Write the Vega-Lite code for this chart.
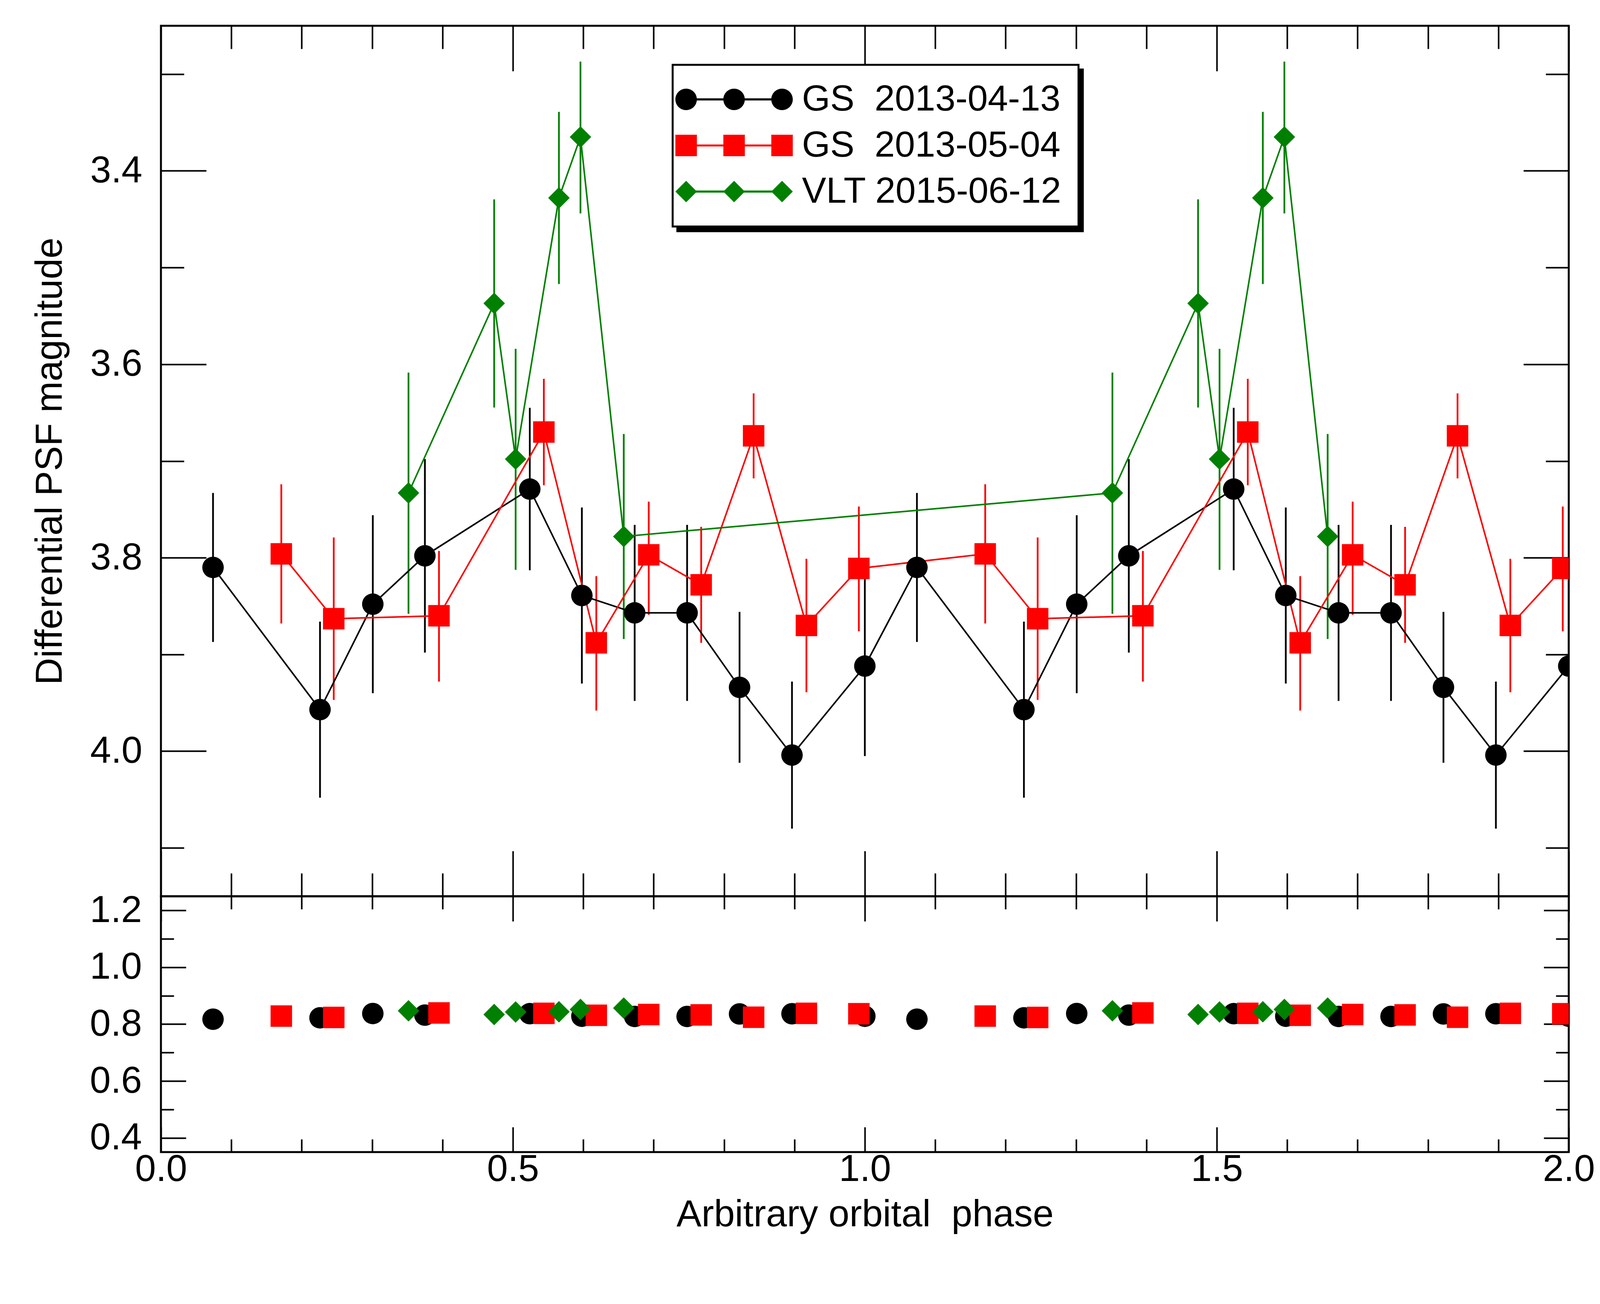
{
  "$schema": "https://vega.github.io/schema/vega-lite/v6.json",
  "background": "white",
  "padding": {"left": 78, "top": 61, "right": 83, "bottom": 130},
  "spacing": 0,
  "bounds": "flush",
  "config": {
    "view": {"stroke": "black", "strokeWidth": 5},
    "axis": {
      "domain": false, "grid": false,
      "tickColor": "black", "tickWidth": 4,
      "labelFont": "Liberation Sans", "labelFontSize": 96, "labelColor": "black",
      "labelOverlap": false, "labelFlush": false, "labelBound": false,
      "titleFont": "Liberation Sans", "titleFontSize": 96, "titleFontWeight": "normal", "titleColor": "black"
    },
    "legend": {"strokeWidth": 5}
  },
  "datasets": {
    "top": [
      {"phase": 0.074, "mag": 3.810, "lo": 3.733, "hi": 3.887, "series": "GS\u00a0 2013-04-13"},
      {"phase": 0.226, "mag": 3.957, "lo": 3.866, "hi": 4.048, "series": "GS\u00a0 2013-04-13"},
      {"phase": 0.301, "mag": 3.848, "lo": 3.756, "hi": 3.940, "series": "GS\u00a0 2013-04-13"},
      {"phase": 0.375, "mag": 3.798, "lo": 3.698, "hi": 3.898, "series": "GS\u00a0 2013-04-13"},
      {"phase": 0.524, "mag": 3.729, "lo": 3.645, "hi": 3.813, "series": "GS\u00a0 2013-04-13"},
      {"phase": 0.598, "mag": 3.839, "lo": 3.748, "hi": 3.930, "series": "GS\u00a0 2013-04-13"},
      {"phase": 0.673, "mag": 3.857, "lo": 3.766, "hi": 3.948, "series": "GS\u00a0 2013-04-13"},
      {"phase": 0.7475, "mag": 3.857, "lo": 3.766, "hi": 3.948, "series": "GS\u00a0 2013-04-13"},
      {"phase": 0.822, "mag": 3.934, "lo": 3.856, "hi": 4.012, "series": "GS\u00a0 2013-04-13"},
      {"phase": 0.8965, "mag": 4.004, "lo": 3.928, "hi": 4.080, "series": "GS\u00a0 2013-04-13"},
      {"phase": 1.000, "mag": 3.912, "lo": 3.819, "hi": 4.005, "series": "GS\u00a0 2013-04-13"},
      {"phase": 1.074, "mag": 3.810, "lo": 3.733, "hi": 3.887, "series": "GS\u00a0 2013-04-13"},
      {"phase": 1.226, "mag": 3.957, "lo": 3.866, "hi": 4.048, "series": "GS\u00a0 2013-04-13"},
      {"phase": 1.301, "mag": 3.848, "lo": 3.756, "hi": 3.940, "series": "GS\u00a0 2013-04-13"},
      {"phase": 1.375, "mag": 3.798, "lo": 3.698, "hi": 3.898, "series": "GS\u00a0 2013-04-13"},
      {"phase": 1.524, "mag": 3.729, "lo": 3.645, "hi": 3.813, "series": "GS\u00a0 2013-04-13"},
      {"phase": 1.598, "mag": 3.839, "lo": 3.748, "hi": 3.930, "series": "GS\u00a0 2013-04-13"},
      {"phase": 1.673, "mag": 3.857, "lo": 3.766, "hi": 3.948, "series": "GS\u00a0 2013-04-13"},
      {"phase": 1.7475, "mag": 3.857, "lo": 3.766, "hi": 3.948, "series": "GS\u00a0 2013-04-13"},
      {"phase": 1.822, "mag": 3.934, "lo": 3.856, "hi": 4.012, "series": "GS\u00a0 2013-04-13"},
      {"phase": 1.8965, "mag": 4.004, "lo": 3.928, "hi": 4.080, "series": "GS\u00a0 2013-04-13"},
      {"phase": 2.000, "mag": 3.912, "lo": 3.819, "hi": 4.005, "series": "GS\u00a0 2013-04-13"},
      {"phase": 0.171, "mag": 3.796, "lo": 3.724, "hi": 3.868, "series": "GS\u00a0 2013-05-04"},
      {"phase": 0.2455, "mag": 3.863, "lo": 3.779, "hi": 3.947, "series": "GS\u00a0 2013-05-04"},
      {"phase": 0.395, "mag": 3.860, "lo": 3.793, "hi": 3.928, "series": "GS\u00a0 2013-05-04"},
      {"phase": 0.544, "mag": 3.670, "lo": 3.615, "hi": 3.725, "series": "GS\u00a0 2013-05-04"},
      {"phase": 0.6185, "mag": 3.888, "lo": 3.819, "hi": 3.958, "series": "GS\u00a0 2013-05-04"},
      {"phase": 0.693, "mag": 3.797, "lo": 3.742, "hi": 3.859, "series": "GS\u00a0 2013-05-04"},
      {"phase": 0.7675, "mag": 3.828, "lo": 3.768, "hi": 3.888, "series": "GS\u00a0 2013-05-04"},
      {"phase": 0.842, "mag": 3.674, "lo": 3.630, "hi": 3.718, "series": "GS\u00a0 2013-05-04"},
      {"phase": 0.917, "mag": 3.870, "lo": 3.801, "hi": 3.939, "series": "GS\u00a0 2013-05-04"},
      {"phase": 0.9915, "mag": 3.811, "lo": 3.747, "hi": 3.876, "series": "GS\u00a0 2013-05-04"},
      {"phase": 1.171, "mag": 3.796, "lo": 3.724, "hi": 3.868, "series": "GS\u00a0 2013-05-04"},
      {"phase": 1.2455, "mag": 3.863, "lo": 3.779, "hi": 3.947, "series": "GS\u00a0 2013-05-04"},
      {"phase": 1.395, "mag": 3.860, "lo": 3.793, "hi": 3.928, "series": "GS\u00a0 2013-05-04"},
      {"phase": 1.544, "mag": 3.670, "lo": 3.615, "hi": 3.725, "series": "GS\u00a0 2013-05-04"},
      {"phase": 1.6185, "mag": 3.888, "lo": 3.819, "hi": 3.958, "series": "GS\u00a0 2013-05-04"},
      {"phase": 1.693, "mag": 3.797, "lo": 3.742, "hi": 3.859, "series": "GS\u00a0 2013-05-04"},
      {"phase": 1.7675, "mag": 3.828, "lo": 3.768, "hi": 3.888, "series": "GS\u00a0 2013-05-04"},
      {"phase": 1.842, "mag": 3.674, "lo": 3.630, "hi": 3.718, "series": "GS\u00a0 2013-05-04"},
      {"phase": 1.917, "mag": 3.870, "lo": 3.801, "hi": 3.939, "series": "GS\u00a0 2013-05-04"},
      {"phase": 1.9915, "mag": 3.811, "lo": 3.747, "hi": 3.876, "series": "GS\u00a0 2013-05-04"},
      {"phase": 0.3517, "mag": 3.733, "lo": 3.6085, "hi": 3.858, "series": "VLT 2015-06-12"},
      {"phase": 0.4734, "mag": 3.537, "lo": 3.4295, "hi": 3.6447, "series": "VLT 2015-06-12"},
      {"phase": 0.5039, "mag": 3.698, "lo": 3.584, "hi": 3.8126, "series": "VLT 2015-06-12"},
      {"phase": 0.5654, "mag": 3.428, "lo": 3.339, "hi": 3.517, "series": "VLT 2015-06-12"},
      {"phase": 0.596, "mag": 3.365, "lo": 3.287, "hi": 3.444, "series": "VLT 2015-06-12"},
      {"phase": 0.6575, "mag": 3.778, "lo": 3.672, "hi": 3.884, "series": "VLT 2015-06-12"},
      {"phase": 1.3517, "mag": 3.733, "lo": 3.6085, "hi": 3.858, "series": "VLT 2015-06-12"},
      {"phase": 1.4734, "mag": 3.537, "lo": 3.4295, "hi": 3.6447, "series": "VLT 2015-06-12"},
      {"phase": 1.5039, "mag": 3.698, "lo": 3.584, "hi": 3.8126, "series": "VLT 2015-06-12"},
      {"phase": 1.5654, "mag": 3.428, "lo": 3.339, "hi": 3.517, "series": "VLT 2015-06-12"},
      {"phase": 1.596, "mag": 3.365, "lo": 3.287, "hi": 3.444, "series": "VLT 2015-06-12"},
      {"phase": 1.6575, "mag": 3.778, "lo": 3.672, "hi": 3.884, "series": "VLT 2015-06-12"}
    ],
    "bottom": [
      {"phase": 0.074, "ratio": 0.8175, "series": "GS\u00a0 2013-04-13"},
      {"phase": 0.226, "ratio": 0.8224, "series": "GS\u00a0 2013-04-13"},
      {"phase": 0.301, "ratio": 0.8375, "series": "GS\u00a0 2013-04-13"},
      {"phase": 0.375, "ratio": 0.832, "series": "GS\u00a0 2013-04-13"},
      {"phase": 0.524, "ratio": 0.837, "series": "GS\u00a0 2013-04-13"},
      {"phase": 0.598, "ratio": 0.828, "series": "GS\u00a0 2013-04-13"},
      {"phase": 0.673, "ratio": 0.8272, "series": "GS\u00a0 2013-04-13"},
      {"phase": 0.7475, "ratio": 0.8272, "series": "GS\u00a0 2013-04-13"},
      {"phase": 0.822, "ratio": 0.8361, "series": "GS\u00a0 2013-04-13"},
      {"phase": 0.8965, "ratio": 0.8368, "series": "GS\u00a0 2013-04-13"},
      {"phase": 1.000, "ratio": 0.828, "series": "GS\u00a0 2013-04-13"},
      {"phase": 1.074, "ratio": 0.8175, "series": "GS\u00a0 2013-04-13"},
      {"phase": 1.226, "ratio": 0.8224, "series": "GS\u00a0 2013-04-13"},
      {"phase": 1.301, "ratio": 0.8375, "series": "GS\u00a0 2013-04-13"},
      {"phase": 1.375, "ratio": 0.832, "series": "GS\u00a0 2013-04-13"},
      {"phase": 1.524, "ratio": 0.837, "series": "GS\u00a0 2013-04-13"},
      {"phase": 1.598, "ratio": 0.828, "series": "GS\u00a0 2013-04-13"},
      {"phase": 1.673, "ratio": 0.8272, "series": "GS\u00a0 2013-04-13"},
      {"phase": 1.7475, "ratio": 0.8272, "series": "GS\u00a0 2013-04-13"},
      {"phase": 1.822, "ratio": 0.8361, "series": "GS\u00a0 2013-04-13"},
      {"phase": 1.8965, "ratio": 0.8368, "series": "GS\u00a0 2013-04-13"},
      {"phase": 2.000, "ratio": 0.828, "series": "GS\u00a0 2013-04-13"},
      {"phase": 0.171, "ratio": 0.8285, "series": "GS\u00a0 2013-05-04"},
      {"phase": 0.2455, "ratio": 0.8237, "series": "GS\u00a0 2013-05-04"},
      {"phase": 0.395, "ratio": 0.8396, "series": "GS\u00a0 2013-05-04"},
      {"phase": 0.544, "ratio": 0.838, "series": "GS\u00a0 2013-05-04"},
      {"phase": 0.6185, "ratio": 0.8313, "series": "GS\u00a0 2013-05-04"},
      {"phase": 0.693, "ratio": 0.834, "series": "GS\u00a0 2013-05-04"},
      {"phase": 0.7675, "ratio": 0.8327, "series": "GS\u00a0 2013-05-04"},
      {"phase": 0.842, "ratio": 0.8244, "series": "GS\u00a0 2013-05-04"},
      {"phase": 0.917, "ratio": 0.8382, "series": "GS\u00a0 2013-05-04"},
      {"phase": 0.9915, "ratio": 0.8368, "series": "GS\u00a0 2013-05-04"},
      {"phase": 1.171, "ratio": 0.8285, "series": "GS\u00a0 2013-05-04"},
      {"phase": 1.2455, "ratio": 0.8237, "series": "GS\u00a0 2013-05-04"},
      {"phase": 1.395, "ratio": 0.8396, "series": "GS\u00a0 2013-05-04"},
      {"phase": 1.544, "ratio": 0.838, "series": "GS\u00a0 2013-05-04"},
      {"phase": 1.6185, "ratio": 0.8313, "series": "GS\u00a0 2013-05-04"},
      {"phase": 1.693, "ratio": 0.834, "series": "GS\u00a0 2013-05-04"},
      {"phase": 1.7675, "ratio": 0.8327, "series": "GS\u00a0 2013-05-04"},
      {"phase": 1.842, "ratio": 0.8244, "series": "GS\u00a0 2013-05-04"},
      {"phase": 1.917, "ratio": 0.8382, "series": "GS\u00a0 2013-05-04"},
      {"phase": 1.9915, "ratio": 0.8368, "series": "GS\u00a0 2013-05-04"},
      {"phase": 0.3517, "ratio": 0.8471, "series": "VLT 2015-06-12"},
      {"phase": 0.4734, "ratio": 0.834, "series": "VLT 2015-06-12"},
      {"phase": 0.5039, "ratio": 0.843, "series": "VLT 2015-06-12"},
      {"phase": 0.5654, "ratio": 0.8437, "series": "VLT 2015-06-12"},
      {"phase": 0.596, "ratio": 0.852, "series": "VLT 2015-06-12"},
      {"phase": 0.6575, "ratio": 0.8568, "series": "VLT 2015-06-12"},
      {"phase": 1.3517, "ratio": 0.8471, "series": "VLT 2015-06-12"},
      {"phase": 1.4734, "ratio": 0.834, "series": "VLT 2015-06-12"},
      {"phase": 1.5039, "ratio": 0.843, "series": "VLT 2015-06-12"},
      {"phase": 1.5654, "ratio": 0.8437, "series": "VLT 2015-06-12"},
      {"phase": 1.596, "ratio": 0.852, "series": "VLT 2015-06-12"},
      {"phase": 1.6575, "ratio": 0.8568, "series": "VLT 2015-06-12"}
    ]
  },
  "vconcat": [
    {
      "width": 3604,
      "height": 2229,
      "data": {"name": "top"},
      "layer": [
        {
          "mark": {"type": "rule", "strokeWidth": 4.5, "clip": true},
          "encoding": {
            "x": {
              "field": "phase", "type": "quantitative",
              "scale": {"domain": [0, 2], "nice": false, "zero": false},
              "axis": {
                "orient": "bottom", "title": null, "labels": false,
                "values": [0, 0.1, 0.2, 0.3, 0.4, 0.5, 0.6, 0.7, 0.8, 0.9, 1, 1.1, 1.2, 1.3, 1.4, 1.5, 1.6, 1.7, 1.8, 1.9, 2],
                "tickSize": {"condition": {"test": "abs(datum.value*2 - round(datum.value*2)) < 0.001", "value": -116}, "value": -59}
              }
            },
            "y": {
              "field": "lo", "type": "quantitative",
              "scale": {"domain": [3.25, 4.15], "reverse": true, "nice": false, "zero": false},
              "axis": {
                "orient": "left", "title": "Differential PSF magnitude", "titlePadding": 53,
                "values": [3.3, 3.4, 3.5, 3.6, 3.7, 3.8, 3.9, 4.0, 4.1],
                "labelExpr": "abs(datum.value*5 - round(datum.value*5)) < 0.001 ? format(datum.value, '.1f') : ''",
                "labelPadding": 164,
                "tickSize": {"condition": {"test": "abs(datum.value*5 - round(datum.value*5)) < 0.001", "value": -116}, "value": -59}
              }
            },
            "y2": {"field": "hi"},
            "stroke": {
              "field": "series", "type": "nominal",
              "scale": {"domain": ["VLT 2015-06-12", "GS\u00a0 2013-05-04", "GS\u00a0 2013-04-13"], "range": ["#008000", "#ff0000", "#000000"]},
              "legend": {
                "orient": "none", "legendX": 1322, "legendY": 112, "direction": "vertical",
                "title": null,
                "symbolType": "circle",
                "symbolSize": 3025,
                "symbolStrokeWidth": 0,
                "symbolFillColor": "black",
                "labelExpr": "''",
                "labelFont": "Liberation Sans Narrow, Liberation Sans",
                "labelFontSize": 93,
                "labelOffset": 861,
                "rowPadding": 24,
                "padding": 42,
                "strokeColor": "black",
                "fillColor": "black",
                "zindex": 0
              }
            }
          }
        },
        {
          "mark": {"type": "line", "strokeWidth": 4, "clip": true},
          "encoding": {
            "x": {
              "field": "phase", "type": "quantitative",
              "scale": {"domain": [0, 2], "nice": false, "zero": false},
              "axis": {
                "orient": "top", "title": null, "labels": false,
                "values": [0, 0.1, 0.2, 0.3, 0.4, 0.5, 0.6, 0.7, 0.8, 0.9, 1, 1.1, 1.2, 1.3, 1.4, 1.5, 1.6, 1.7, 1.8, 1.9, 2],
                "tickSize": {"condition": {"test": "abs(datum.value*2 - round(datum.value*2)) < 0.001", "value": -116}, "value": -59}
              }
            },
            "y": {
              "field": "mag", "type": "quantitative",
              "scale": {"domain": [3.25, 4.15], "reverse": true, "nice": false, "zero": false},
              "axis": {
                "orient": "right", "title": null, "labels": false,
                "values": [3.3, 3.4, 3.5, 3.6, 3.7, 3.8, 3.9, 4.0, 4.1],
                "tickSize": {"condition": {"test": "abs(datum.value*5 - round(datum.value*5)) < 0.001", "value": -116}, "value": -59}
              }
            },
            "stroke": {
              "field": "series", "type": "nominal",
              "scale": {"domain": ["VLT 2015-06-12", "GS\u00a0 2013-05-04", "GS\u00a0 2013-04-13"], "range": ["#008000", "#ff0000", "#000000"]}
            }
          }
        },
        {
          "mark": {"type": "point", "filled": true, "size": 3025, "opacity": 1, "clip": true},
          "encoding": {
            "x": {"field": "phase", "type": "quantitative", "scale": {"domain": [0, 2], "nice": false, "zero": false}, "axis": null},
            "y": {"field": "mag", "type": "quantitative", "scale": {"domain": [3.25, 4.15], "reverse": true, "nice": false, "zero": false}, "axis": null},
            "shape": {
              "field": "series", "type": "nominal",
              "scale": {"domain": ["VLT 2015-06-12", "GS\u00a0 2013-05-04", "GS\u00a0 2013-04-13"], "range": ["diamond", "square", "circle"]},
              "legend": null
            },
            "color": {
              "field": "series", "type": "nominal",
              "scale": {"domain": ["GS\u00a0 2013-04-13", "GS\u00a0 2013-05-04", "VLT 2015-06-12"], "range": ["#000000", "#ff0000", "#008000"]},
              "legend": {
                "orient": "none", "legendX": 1310, "legendY": 100, "direction": "vertical",
                "title": null,
                "symbolType": {"expr": "indexof(datum.value, '04-13') >= 0 ? 'M-1 0 C-1 -0.5523 -0.5523 -1 0 -1 C0.5523 -1 1 -0.5523 1 0 C1 0.5523 0.5523 1 0 1 C-0.5523 1 -1 0.5523 -1 0 Z M3.4643 0 C3.4643 -0.5523 3.912 -1 4.4643 -1 C5.0166 -1 5.4643 -0.5523 5.4643 0 C5.4643 0.5523 5.0166 1 4.4643 1 C3.912 1 3.4643 0.5523 3.4643 0 Z M7.9286 0 C7.9286 -0.5523 8.3763 -1 8.9286 -1 C9.4809 -1 9.9286 -0.5523 9.9286 0 C9.9286 0.5523 9.4809 1 8.9286 1 C8.3763 1 7.9286 0.5523 7.9286 0 Z M0 -0.1 L8.9286 -0.1 L8.9286 0.1 L0 0.1 Z' : indexof(datum.value, '05-04') >= 0 ? 'M-1 -1 L1 -1 L1 1 L-1 1 Z M3.4643 -1 L5.4643 -1 L5.4643 1 L3.4643 1 Z M7.9286 -1 L9.9286 -1 L9.9286 1 L7.9286 1 Z M0 -0.09 L8.9286 -0.09 L8.9286 0.09 L0 0.09 Z' : 'M-1 0 L0 -1 L1 0 L0 1 Z M3.4643 0 L4.4643 -1 L5.4643 0 L4.4643 1 Z M7.9286 0 L8.9286 -1 L9.9286 0 L8.9286 1 Z M0 -0.1 L8.9286 -0.1 L8.9286 0.1 L0 0.1 Z'"},
                "symbolSize": 3025,
                "symbolStrokeWidth": 0,
                "symbolOpacity": 1,
                "symbolOffset": -54,
                "labelFont": "Liberation Sans Narrow, Liberation Sans",
                "labelFontSize": 93,
                "labelColor": "black",
                "labelOffset": 250,
                "labelLimit": 5000,
                "rowPadding": 24,
                "padding": 42,
                "strokeColor": "black",
                "fillColor": "white",
                "zindex": 1
              }
            }
          }
        }
      ],
      "resolve": {"axis": {"x": "independent", "y": "independent"}}
    },
    {
      "width": 3604,
      "height": 655,
      "data": {"name": "bottom"},
      "layer": [
        {
          "mark": {"type": "point", "filled": true, "size": 3025, "opacity": 1, "clip": true},
          "encoding": {
            "x": {
              "field": "phase", "type": "quantitative",
              "scale": {"domain": [0, 2], "nice": false, "zero": false},
              "axis": {
                "orient": "bottom", "title": "Arbitrary orbital\u00a0 phase", "titlePadding": -10,
                "values": [0, 0.1, 0.2, 0.3, 0.4, 0.5, 0.6, 0.7, 0.8, 0.9, 1, 1.1, 1.2, 1.3, 1.4, 1.5, 1.6, 1.7, 1.8, 1.9, 2],
                "labelExpr": "abs(datum.value*2 - round(datum.value*2)) < 0.001 ? format(datum.value, '.1f') : ''",
                "labelPadding": 61,
                "tickSize": {"condition": {"test": "abs(datum.value*2 - round(datum.value*2)) < 0.001", "value": -64}, "value": -33}
              }
            },
            "y": {
              "field": "ratio", "type": "quantitative",
              "scale": {"domain": [0.35, 1.25], "nice": false, "zero": false},
              "axis": {
                "orient": "left", "title": null,
                "values": [0.4, 0.5, 0.6, 0.7, 0.8, 0.9, 1.0, 1.1, 1.2],
                "labelExpr": "abs(datum.value*5 - round(datum.value*5)) < 0.001 ? format(datum.value, '.1f') : ''",
                "labelPadding": 113,
                "tickSize": {"condition": {"test": "abs(datum.value*5 - round(datum.value*5)) < 0.001", "value": -64}, "value": -33}
              }
            },
            "color": {
              "field": "series", "type": "nominal",
              "scale": {"domain": ["GS\u00a0 2013-04-13", "GS\u00a0 2013-05-04", "VLT 2015-06-12"], "range": ["#000000", "#ff0000", "#008000"]},
              "legend": null
            },
            "shape": {
              "field": "series", "type": "nominal",
              "scale": {"domain": ["GS\u00a0 2013-04-13", "GS\u00a0 2013-05-04", "VLT 2015-06-12"], "range": ["circle", "square", "diamond"]},
              "legend": null
            }
          }
        },
        {
          "mark": {"type": "point", "size": 0, "opacity": 0},
          "encoding": {
            "x": {
              "field": "phase", "type": "quantitative",
              "scale": {"domain": [0, 2], "nice": false, "zero": false},
              "axis": {
                "orient": "top", "title": null, "labels": false,
                "values": [0, 0.1, 0.2, 0.3, 0.4, 0.5, 0.6, 0.7, 0.8, 0.9, 1, 1.1, 1.2, 1.3, 1.4, 1.5, 1.6, 1.7, 1.8, 1.9, 2],
                "tickSize": {"condition": {"test": "abs(datum.value*2 - round(datum.value*2)) < 0.001", "value": -64}, "value": -33}
              }
            },
            "y": {
              "field": "ratio", "type": "quantitative",
              "scale": {"domain": [0.35, 1.25], "nice": false, "zero": false},
              "axis": {
                "orient": "right", "title": null, "labels": false,
                "values": [0.4, 0.5, 0.6, 0.7, 0.8, 0.9, 1.0, 1.1, 1.2],
                "tickSize": {"condition": {"test": "abs(datum.value*5 - round(datum.value*5)) < 0.001", "value": -64}, "value": -33}
              }
            }
          }
        }
      ],
      "resolve": {"axis": {"x": "independent", "y": "independent"}}
    }
  ],
  "resolve": {"scale": {"color": "independent", "shape": "independent", "stroke": "independent"}}
}
